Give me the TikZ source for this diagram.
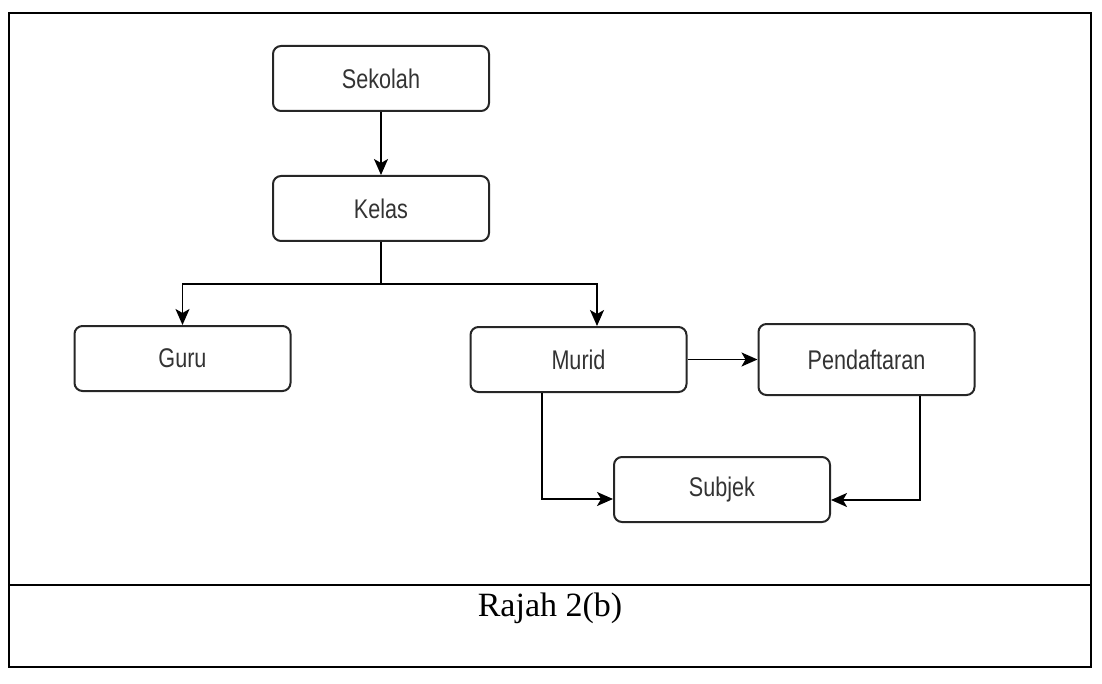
\documentclass[tikz,border=0pt]{standalone}
\usepackage{fontspec}
\setmainfont{Liberation Serif}
\newfontfamily\boxfont{Liberation Sans}
\usetikzlibrary{arrows.meta}
\definecolor{txtgray}{HTML}{333333}
\tikzset{
  entity/.style={draw=black!85, line width=2pt, rounded corners=8pt, minimum width=216pt, minimum height=65pt, inner sep=0pt, text=txtgray,
     font=\boxfont\fontsize{27}{30}\selectfont},
  link/.style={line width=1.8pt, -{Stealth[length=16pt,width=14pt,inset=4pt]}},
  plain/.style={line width=1.8pt},
  frame/.style={line width=2.2pt}
}
\newcommand{\narrowtxt}[1]{\scalebox{0.8}[1]{#1}}
\begin{document}
\begin{tikzpicture}[x=1pt,y=-1pt]
\useasboundingbox (0,0) rectangle (1102,684);
% frame
\draw[frame] (9,13) rectangle (1091,667);
\draw[frame] (9,585) -- (1091,585);
\node[font=\fontsize{34}{38}\selectfont] (cap) at (550,608) {Rajah 2(b)};
% boxes
\node[entity] (sek) at (381,78.5) {\narrowtxt{Sekolah}};
\node[entity] (kel) at (381,208.5) {\narrowtxt{Kelas}};
\node[entity] (guru) at (182.5,358.5) {\narrowtxt{Guru}};
\node[entity] (mur) at (578.5,359.5) {\narrowtxt{Murid}};
\node[entity, minimum height=71pt] (pen) at (866.5,359.5) {\narrowtxt{Pendaftaran}};
\node[entity] (sub) at (722,489.5) {\narrowtxt{Subjek}};
% junction
\coordinate (j) at (381,284);
\coordinate (jl) at (182.5,284);
\coordinate (jr) at (597,284);
\coordinate (md) at (542,499);
\coordinate (pd) at (920,500);
% connectors
\draw[link] (sek) -- (kel);
\draw[plain] (kel) -- (j);
\draw[link] (j) -- (jl) -- (guru.north);
\draw[link] (j) -- (jr) -- (jr |- mur.north);
\draw[link] (mur) -- (pen);
\draw[link] (mur.south -| md) -- (md) -- (md -| sub.west);
\draw[link] (pen.south -| pd) -- (pd) -- (pd -| sub.east);
\end{tikzpicture}
\end{document}
